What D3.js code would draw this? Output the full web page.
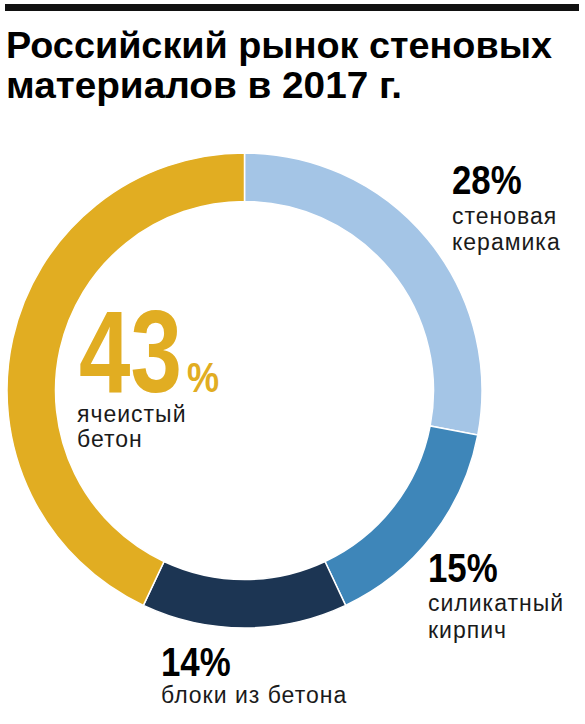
<!DOCTYPE html>
<html>
<head>
<meta charset="utf-8">
<script src="https://cdn.jsdelivr.net/npm/d3@7/dist/d3.min.js"></script>
<style>
    body { margin: 0; background: #fff; }
    .pct { font-family: "Liberation Sans", Arial, sans-serif; font-weight: bold; }
    .lbl { font-family: "Liberation Sans", Arial, sans-serif; font-size: 23px; font-weight: normal; letter-spacing: 1px; fill: #1a1a1a; }
</style>
</head>
<body>
<svg id="chart"></svg>
<script>
const categories = ['стеновая керамика', 'силикатный кирпич', 'блоки из бетона', 'ячеистый бетон']
const shares = [28, 15, 14, 43]
const colors = ['#a4c5e6', '#3e86b9', '#1c3553', '#e1ad22']
const titleLines = ['Российский рынок стеновых', 'материалов в 2017 г.']

const width = 585
const height = 724
const cx = 244.5
const cy = 390.5
const outerR = 237.5
const innerR = 189

let svg = d3.select('#chart')
    .attr('width', width)
    .attr('height', height)

// верхняя линейка
svg.append('rect')
    .attr('x', 5)
    .attr('y', 4)
    .attr('width', 574)
    .attr('height', 7)
    .attr('fill', '#111')

// заголовок
svg.append('g')
    .selectAll('text')
    .data(titleLines)
    .join('text')
    .attr('x', 6)
    .attr('y', (d, i) => 58 + i * 40)
    .attr('textLength', (d, i) => i === 0 ? 546 : 396)
    .attr('lengthAdjust', 'spacingAndGlyphs')
    .style('font-family', '"Liberation Sans", Arial, sans-serif')
    .style('font-weight', 'bold')
    .style('font-size', '36px')
    .style('fill', '#000')
    .text(d => d)

// кольцо
let pie = d3.pie().sort(null).value(d => d)
let arc = d3.arc().innerRadius(innerR).outerRadius(outerR)

let g = svg.append('g')
    .attr('transform', 'translate(' + cx + ',' + cy + ')')

g.selectAll('path')
    .data(pie(shares))
    .join('path')
    .attr('d', arc)
    .attr('fill', (d, i) => colors[i])
    .attr('stroke', '#fff')
    .attr('stroke-width', 1.5)

// узкое начертание: сжимаем по горизонтали
function narrowText(x, y, sx, size, fill, str) {
    return svg.append('g')
        .attr('transform', 'translate(' + x + ',' + y + ') scale(' + sx + ',1)')
        .append('text')
        .attr('class', 'pct')
        .style('font-size', size + 'px')
        .style('fill', fill)
        .text(str)
}

// подписи: позиция процента и строк подписи
const labelPos = [
    {x: 452, y: 194, lines: [224, 250]},
    {x: 428, y: 582, lines: [611, 638]},
    {x: 161, y: 676, lines: [703]}
]
const pctFmt = d => d + '%'

labelPos.forEach(function (p, i) {
    narrowText(p.x, p.y, 0.87, 40, '#000', pctFmt(shares[i]))

    let words = i === 2 ? [categories[i]] : categories[i].split(' ')
    words.forEach(function (w, j) {
        svg.append('text')
            .attr('class', 'lbl')
            .attr('x', p.x)
            .attr('y', p.lines[j])
            .text(w)
    })
})

// главный сегмент внутри кольца
narrowText(79, 392, 0.79, 117, colors[3], shares[3])
narrowText(187, 392, 0.86, 42, colors[3], '%')

categories[3].split(' ').forEach(function (w, j) {
    svg.append('text')
        .attr('class', 'lbl')
        .attr('x', 77)
        .attr('y', 422 + j * 25)
        .text(w)
})
</script>
</body>
</html>
